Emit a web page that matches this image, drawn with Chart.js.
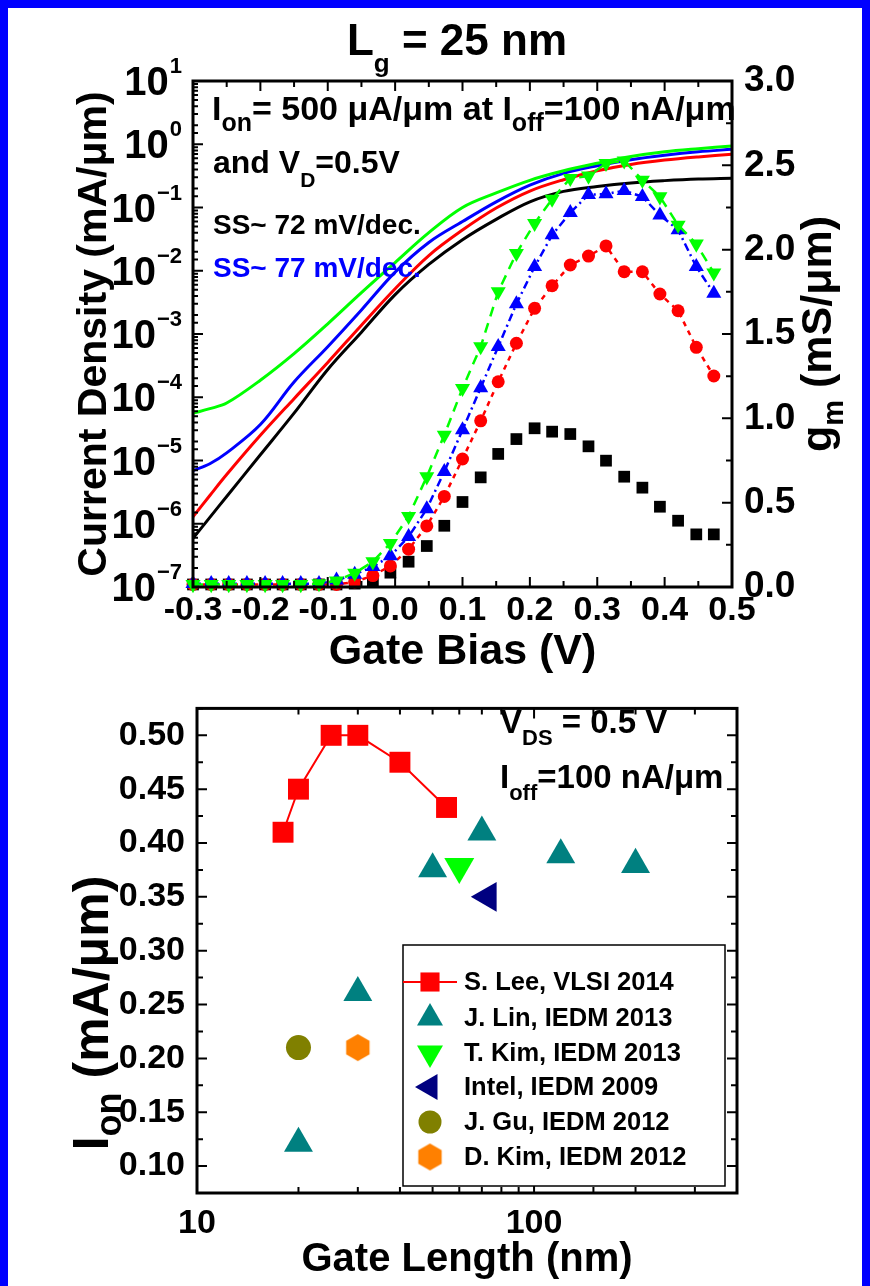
<!DOCTYPE html>
<html><head><meta charset="utf-8">
<script src="https://cdn.jsdelivr.net/npm/chart.js@4.4.0/dist/chart.umd.min.js"></script>
<style>
html,body{margin:0;padding:0}
body{width:870px;height:1286px;background:#0000ff;position:relative;overflow:hidden}
#panel{position:absolute;left:8px;top:8px;width:854px;height:1278px;background:#fff}
#c1{position:absolute;left:0;top:0}
#c2{position:absolute;left:0;top:676px}
</style></head><body>
<div id="panel"></div>
<canvas id="c1" width="870" height="680"></canvas>
<canvas id="c2" width="870" height="610"></canvas>
<script>
// ---------- top panel: Id-Vg (left, log) ----------
const ivBias   = [-0.3,-0.275,-0.25,-0.2,-0.15,-0.1,-0.05,0,0.05,0.1,0.15,0.2,0.25,0.3,0.35,0.4,0.45,0.5];
const curBlack = [5.9e-7,1.26e-6,2.7e-6,1.23e-5,5.6e-5,2.75e-4,1.07e-3,4.2e-3,1.26e-2,3.1e-2,6.5e-2,0.123,0.18,0.215,0.245,0.266,0.282,0.29];
const curRed   = [1.29e-6,2.8e-6,6.0e-6,2.5e-5,9.5e-5,3.55e-4,1.38e-3,5.2e-3,1.74e-2,4.4e-2,9.8e-2,0.182,0.275,0.38,0.479,0.562,0.631,0.693];
const curBlue  = [6.9e-6,8.9e-6,1.32e-5,3.7e-5,1.74e-4,6.3e-4,2.4e-3,9.5e-3,2.8e-2,6.0e-2,0.123,0.226,0.347,0.457,0.569,0.668,0.759,0.832];
const curGreen = [5.6e-5,6.6e-5,8.1e-5,1.86e-4,4.9e-4,1.45e-3,4.5e-3,1.35e-2,4.0e-2,0.100,0.17,0.269,0.38,0.50,0.638,0.759,0.851,0.938];
// gm (right axis)
const gmBias  = [-0.300,-0.273,-0.247,-0.220,-0.193,-0.167,-0.140,-0.113,-0.087,-0.060,-0.033,-0.007,0.020,0.047,0.073,0.100,0.127,0.153,0.180,0.207,0.233,0.260,0.287,0.313,0.340,0.367,0.393,0.420,0.447,0.473];
const gmBlack = [0.015,0.015,0.015,0.015,0.015,0.015,0.015,0.015,0.015,0.02,0.04,0.085,0.15,0.243,0.363,0.504,0.65,0.789,0.877,0.941,0.921,0.907,0.834,0.749,0.654,0.589,0.476,0.393,0.312,0.312];
const gmRed   = [0.015,0.015,0.015,0.015,0.015,0.015,0.015,0.015,0.015,0.03,0.068,0.125,0.224,0.362,0.537,0.759,0.985,1.217,1.445,1.652,1.786,1.909,1.962,2.022,1.869,1.869,1.737,1.638,1.421,1.251];
const gmBlue  = [0.02,0.02,0.02,0.02,0.02,0.02,0.02,0.02,0.04,0.075,0.12,0.184,0.298,0.463,0.684,0.931,1.181,1.425,1.678,1.899,2.087,2.219,2.326,2.33,2.35,2.314,2.205,2.117,1.899,1.741];
const gmGreen = [0.015,0.015,0.015,0.015,0.015,0.015,0.015,0.02,0.037,0.083,0.15,0.259,0.419,0.654,0.901,1.178,1.425,1.751,1.978,2.156,2.30,2.423,2.437,2.512,2.527,2.413,2.314,2.146,2.034,1.863];
const logTickPowers = [1,0,-1,-2,-3,-4,-5,-6,-7];

// ---------- bottom panel: Ion vs gate length ----------
const seriesNames = ['S. Lee, VLSI 2014','J. Lin, IEDM 2013','T. Kim, IEDM 2013','Intel, IEDM 2009','J. Gu, IEDM 2012','D. Kim, IEDM 2012'];
const lgLee   = [18,20,25,30,40,55];      const ionLee   = [0.41,0.45,0.50,0.50,0.475,0.433];
const lgLin   = [20,30,50,70,120,200];    const ionLin   = [0.121,0.261,0.376,0.410,0.389,0.380];
const lgTKim  = [60];                     const ionTKim  = [0.378];
const lgIntel = [73];                     const ionIntel = [0.35];
const lgGu    = [20];                     const ionGu    = [0.21];
const lgDKim  = [30];                     const ionDKim  = [0.21];

const FAM = '"Liberation Sans", Arial, Helvetica, sans-serif';
Chart.defaults.font.family = FAM;
Chart.defaults.font.weight = 'bold';
Chart.defaults.color = '#000';
const bf = s => ({family: FAM, size: s, weight: 'bold'});
const cssFont = s => 'bold ' + s + 'px ' + FAM;
const pts = (xs, ys) => xs.map((x, i) => ({x: x, y: ys[i]}));
const near = (a, b) => Math.abs(a - b) < 1e-6;

function drawRich(ctx, x, y, parts, o) {
  o = o || {};
  ctx.save();
  ctx.translate(x, y);
  if (o.rot) ctx.rotate(o.rot);
  ctx.textBaseline = 'alphabetic';
  ctx.textAlign = 'left';
  let w = 0;
  for (const p of parts) { ctx.font = cssFont(p[1]); w += ctx.measureText(p[0]).width; }
  let cx = o.align === 'center' ? -w / 2 : (o.align === 'right' ? -w : 0);
  for (const p of parts) {
    ctx.font = cssFont(p[1]);
    ctx.fillStyle = p[3] || o.color || '#000';
    ctx.fillText(p[0], cx, p[2] || 0);
    cx += ctx.measureText(p[0]).width;
  }
  ctx.restore();
}

// frame + inward ticks
const framePlugin = {
  id: 'frame',
  afterDraw(chart, args, opts) {
    const ctx = chart.ctx, a = chart.chartArea;
    ctx.save();
    ctx.strokeStyle = '#000';
    ctx.lineWidth = 2;
    for (const spec of opts.ticks) {
      const sc = chart.scales[spec.scale];
      ctx.beginPath();
      for (const t of sc.ticks) {
        const p = sc.getPixelForValue(t.value);
        const len = spec.isMajor(t.value) ? spec.major : spec.minor;
        for (const side of spec.sides) {
          if (side === 'bottom') { ctx.moveTo(p, a.bottom); ctx.lineTo(p, a.bottom - len); }
          if (side === 'top')    { ctx.moveTo(p, a.top);    ctx.lineTo(p, a.top + len); }
          if (side === 'left')   { ctx.moveTo(a.left, p);   ctx.lineTo(a.left + len, p); }
          if (side === 'right')  { ctx.moveTo(a.right, p);  ctx.lineTo(a.right - len, p); }
        }
      }
      ctx.stroke();
    }
    ctx.lineWidth = 3;
    ctx.strokeRect(a.left, a.top, a.right - a.left, a.bottom - a.top);
    ctx.restore();
  }
};

// ---------------- TOP CHART ----------------
const topText = {
  id: 'topText',
  afterDraw(chart) {
    const ctx = chart.ctx;
    const yL = chart.scales.yL;
    // log tick labels 10^n
    for (const n of logTickPowers) {
      const y = yL.getPixelForValue(Math.pow(10, n));
      const sup = n < 0 ? '\u2212' + (-n) : String(n);
      ctx.font = cssFont(22); const ws = ctx.measureText(sup).width;
      drawRich(ctx, 181 - ws, y + 14, [['10', 40]], {align: 'right'});
      drawRich(ctx, 182 - ws, y - 8, [[sup, 22]]);
    }
    // title
    drawRich(ctx, 457, 55, [['L', 44], ['g', 26, 17], [' = 25 nm', 44]], {align: 'center'});
    // annotations
    drawRich(ctx, 212, 120, [['I', 34], ['on', 25, 11], ['= 500 \u03bcA/\u03bcm at I', 34], ['off', 25, 11], ['=100 nA/\u03bcm', 34]]);
    drawRich(ctx, 213, 173, [['and V', 32], ['D', 21, 14], ['=0.5V', 32]]);
    drawRich(ctx, 213, 234, [['SS~ 72 mV/dec.', 28]]);
    drawRich(ctx, 213, 277, [['SS~ 77 mV/dec.', 28]], {color: '#0000ff'});
    // right axis title
    drawRich(ctx, 831, 334, [['g', 43], ['m', 29, 12], [' (mS/\u03bcm)', 43]], {rot: -Math.PI / 2, align: 'center'});
  }
};

new Chart(document.getElementById('c1'), {
  type: 'scatter',
  data: {
    datasets: [
      {label: 'gm green', data: pts(gmBias, gmGreen), yAxisID: 'yR', showLine: true, borderColor: '#00ff00', borderWidth: 2.5, borderDash: [10, 7],
       pointStyle: 'triangle', pointRotation: 180, pointRadius: 8.7, pointBackgroundColor: '#00ff00', pointBorderWidth: 0, order: 0, clip: false},
      {label: 'gm blue', data: pts(gmBias, gmBlue), yAxisID: 'yR', showLine: true, borderColor: '#0000ff', borderWidth: 2.5, borderDash: [8, 4, 2, 4],
       pointStyle: 'triangle', pointRadius: 8.7, pointBackgroundColor: '#0000ff', pointBorderWidth: 0, order: 1, clip: false},
      {label: 'gm red', data: pts(gmBias, gmRed), yAxisID: 'yR', showLine: true, borderColor: '#ff0000', borderWidth: 2.5, borderDash: [5, 5],
       pointStyle: 'circle', pointRadius: 6.5, pointBackgroundColor: '#ff0000', pointBorderWidth: 0, order: 2, clip: false},
      {label: 'gm black', data: pts(gmBias, gmBlack), yAxisID: 'yR', showLine: false,
       pointStyle: 'rect', pointRadius: 8.3, pointBackgroundColor: '#000', pointBorderWidth: 0, order: 3, clip: false},
      {label: 'Id green', data: pts(ivBias, curGreen), yAxisID: 'yL', showLine: true, borderColor: '#00ff00', borderWidth: 3, pointRadius: 0, tension: 0.35, order: 10},
      {label: 'Id blue', data: pts(ivBias, curBlue), yAxisID: 'yL', showLine: true, borderColor: '#0000ff', borderWidth: 3, pointRadius: 0, tension: 0.35, order: 11},
      {label: 'Id red', data: pts(ivBias, curRed), yAxisID: 'yL', showLine: true, borderColor: '#ff0000', borderWidth: 3, pointRadius: 0, tension: 0.35, order: 12},
      {label: 'Id black', data: pts(ivBias, curBlack), yAxisID: 'yL', showLine: true, borderColor: '#000000', borderWidth: 3, pointRadius: 0, tension: 0.35, order: 13}
    ]
  },
  options: {
    responsive: false, animation: false, devicePixelRatio: 1,
    layout: {padding: {top: 81, left: 0, right: 0, bottom: 0}},
    plugins: {legend: {display: false}, tooltip: {enabled: false},
      frame: {ticks: [
        {scale: 'x', sides: ['bottom', 'top'], isMajor: v => near(v * 10, Math.round(v * 10)), major: 10, minor: 6},
        {scale: 'yL', sides: ['left'], isMajor: v => near(Math.log10(v), Math.round(Math.log10(v))), major: 10, minor: 5},
        {scale: 'yR', sides: ['right'], isMajor: v => near(v * 2, Math.round(v * 2)), major: 10, minor: 6}
      ]}
    },
    scales: {
      x: {type: 'linear', position: 'bottom', min: -0.3, max: 0.5,
          ticks: {stepSize: 0.05, autoSkip: false, maxRotation: 0, font: bf(34), padding: 3,
                  callback: v => { const r = Math.round(v * 100) / 100; return near(r * 10, Math.round(r * 10)) ? (Math.round(r * 10) / 10).toFixed(1) : ''; }},
          grid: {display: false, drawTicks: false}, border: {display: false},
          title: {display: true, text: 'Gate Bias (V)', font: bf(43), padding: {top: 0, bottom: 2}},
          afterFit: s => { s.height = 93; }},
      yL: {type: 'logarithmic', position: 'left', min: 1e-7, max: 10,
          ticks: {autoSkip: false, callback: () => ''},
          grid: {display: false, drawTicks: false}, border: {display: false},
          title: {display: true, text: 'Current Density (mA/\u03bcm)', font: bf(41), padding: {top: 70, bottom: 0}},
          afterFit: s => { s.width = 193; }},
      yR: {type: 'linear', position: 'right', min: 0, max: 3,
          ticks: {stepSize: 0.25, autoSkip: false, font: bf(37), padding: 12,
                  callback: v => near(v * 2, Math.round(v * 2)) ? (Math.round(v * 2) / 2).toFixed(1) : ''},
          grid: {display: false, drawTicks: false}, border: {display: false},
          afterFit: s => { s.width = 138; }}
    }
  },
  plugins: [framePlugin, topText]
});

// ---------------- BOTTOM CHART ----------------
function hexCanvas(R, color) {
  const c = document.createElement('canvas');
  const s = Math.ceil(2 * R + 2);
  c.width = s; c.height = s;
  const g = c.getContext('2d');
  g.fillStyle = color;
  g.beginPath();
  for (let i = 0; i < 6; i++) {
    const an = Math.PI / 2 + i * Math.PI / 3;
    const px = s / 2 + R * Math.cos(an), py = s / 2 + R * Math.sin(an);
    if (i) g.lineTo(px, py); else g.moveTo(px, py);
  }
  g.closePath(); g.fill();
  return c;
}
const hexBig = hexCanvas(13.5, '#ff8000');

function marker(ctx, style, x, y, r, color, rot) {
  ctx.save();
  ctx.fillStyle = color;
  ctx.translate(x, y);
  ctx.rotate((rot || 0) * Math.PI / 180);
  ctx.beginPath();
  if (style === 'rect') { const h = r * Math.SQRT1_2; ctx.rect(-h, -h, 2 * h, 2 * h); ctx.fill(); }
  else if (style === 'circle') { ctx.arc(0, 0, r, 0, Math.PI * 2); ctx.fill(); }
  else if (style === 'triangle') {
    for (let i = 0; i < 3; i++) { const an = i * 2 * Math.PI / 3; const px = Math.sin(an) * r, py = -Math.cos(an) * r; if (i) ctx.lineTo(px, py); else ctx.moveTo(px, py); }
    ctx.closePath(); ctx.fill();
  } else if (style === 'hex') { ctx.drawImage(hexBig, -hexBig.width / 2, -hexBig.height / 2); }
  ctx.restore();
}

const bottomText = {
  id: 'bottomText',
  afterDraw(chart) {
    const ctx = chart.ctx;
    const off = 676;
    drawRich(ctx, 500, 733 - off, [['V', 33], ['DS', 22, 12], [' = 0.5 V', 33]]);
    drawRich(ctx, 500, 788 - off, [['I', 33], ['off', 22, 12], ['=100 nA/\u03bcm', 33]]);
    drawRich(ctx, 108, 1013 - off, [['I', 50], ['on', 36, 13], [' (mA/\u03bcm)', 50]], {rot: -Math.PI / 2, align: 'center'});
    // legend box
    const L = 403, T = 945 - off, R = 725, B = 1186 - off;
    ctx.save();
    ctx.fillStyle = '#fff'; ctx.fillRect(L, T, R - L, B - T);
    ctx.strokeStyle = '#000'; ctx.lineWidth = 1.5; ctx.strokeRect(L, T, R - L, B - T);
    const ds = chart.data.datasets;
    const rows = [982, 1018, 1053, 1087, 1122, 1157];
    const styles = [['rect', 13.5, 0], ['triangle', 15, 0], ['triangle', 15, 180], ['triangle', 15, 270], ['circle', 11.5, 0], ['hex', 0, 0]];
    for (let i = 0; i < ds.length; i++) {
      const y = rows[i] - off;
      if (i === 0) { ctx.strokeStyle = ds[0].borderColor; ctx.lineWidth = 2; ctx.beginPath(); ctx.moveTo(L, y); ctx.lineTo(457, y); ctx.stroke(); }
      marker(ctx, styles[i][0], 430, y, styles[i][1], ds[i].pointBackgroundColor, styles[i][2]);
      ctx.fillStyle = '#000'; ctx.font = cssFont(25.5); ctx.textBaseline = 'middle'; ctx.textAlign = 'left';
      ctx.fillText(ds[i].label, 464, y + 1);
    }
    ctx.restore();
  }
};

new Chart(document.getElementById('c2'), {
  type: 'scatter',
  data: {
    datasets: [
      {label: seriesNames[0], data: pts(lgLee, ionLee), showLine: true, borderColor: '#ff0000', borderWidth: 2,
       pointStyle: 'rect', pointRadius: 14.8, pointBackgroundColor: '#ff0000', pointBorderWidth: 0, clip: false},
      {label: seriesNames[1], data: pts(lgLin, ionLin), showLine: false,
       pointStyle: 'triangle', pointRadius: 16.7, pointBackgroundColor: '#008080', pointBorderWidth: 0, clip: false},
      {label: seriesNames[2], data: pts(lgTKim, ionTKim), showLine: false,
       pointStyle: 'triangle', pointRotation: 180, pointRadius: 17.3, pointBackgroundColor: '#00ff00', pointBorderWidth: 0, clip: false},
      {label: seriesNames[3], data: pts(lgIntel, ionIntel), showLine: false,
       pointStyle: 'triangle', pointRotation: 270, pointRadius: 17.2, pointBackgroundColor: '#000080', pointBorderWidth: 0, clip: false},
      {label: seriesNames[4], data: pts(lgGu, ionGu), showLine: false,
       pointStyle: 'circle', pointRadius: 12.5, pointBackgroundColor: '#808000', pointBorderWidth: 0, clip: false},
      {label: seriesNames[5], data: pts(lgDKim, ionDKim), showLine: false,
       pointStyle: hexBig, pointRadius: 13.5, pointBackgroundColor: '#ff8000', pointBorderWidth: 0, clip: false}
    ]
  },
  options: {
    responsive: false, animation: false, devicePixelRatio: 1,
    layout: {padding: {top: 12, left: 0, right: 133, bottom: 0}},
    plugins: {legend: {display: false}, tooltip: {enabled: false},
      frame: {ticks: [
        {scale: 'x', sides: ['bottom', 'top'], isMajor: v => near(Math.log10(v), Math.round(Math.log10(v))), major: 10, minor: 6},
        {scale: 'y', sides: ['left', 'right'], isMajor: v => near(v * 20, Math.round(v * 20)), major: 10, minor: 6}
      ]}
    },
    scales: {
      x: {type: 'logarithmic', position: 'bottom', min: 10, max: 400,
          ticks: {autoSkip: false, maxRotation: 0, font: bf(34), padding: 10,
                  callback: v => (near(v, 10) || near(v, 100)) ? String(Math.round(v)) : ''},
          grid: {display: false, drawTicks: false}, border: {display: false},
          title: {display: true, text: 'Gate Length (nm)', font: bf(40), padding: {top: 0, bottom: 2}},
          afterFit: s => { s.height = 93; }},
      y: {type: 'linear', position: 'left', min: 0.075, max: 0.525,
          ticks: {stepSize: 0.025, autoSkip: false, font: bf(34), padding: 12,
                  callback: v => near(v * 20, Math.round(v * 20)) ? (Math.round(v * 20) / 20).toFixed(2) : ''},
          grid: {display: false, drawTicks: false}, border: {display: false},
          afterFit: s => { s.width = 197; }}
    }
  },
  plugins: [framePlugin, bottomText]
});
</script>
</body></html>
